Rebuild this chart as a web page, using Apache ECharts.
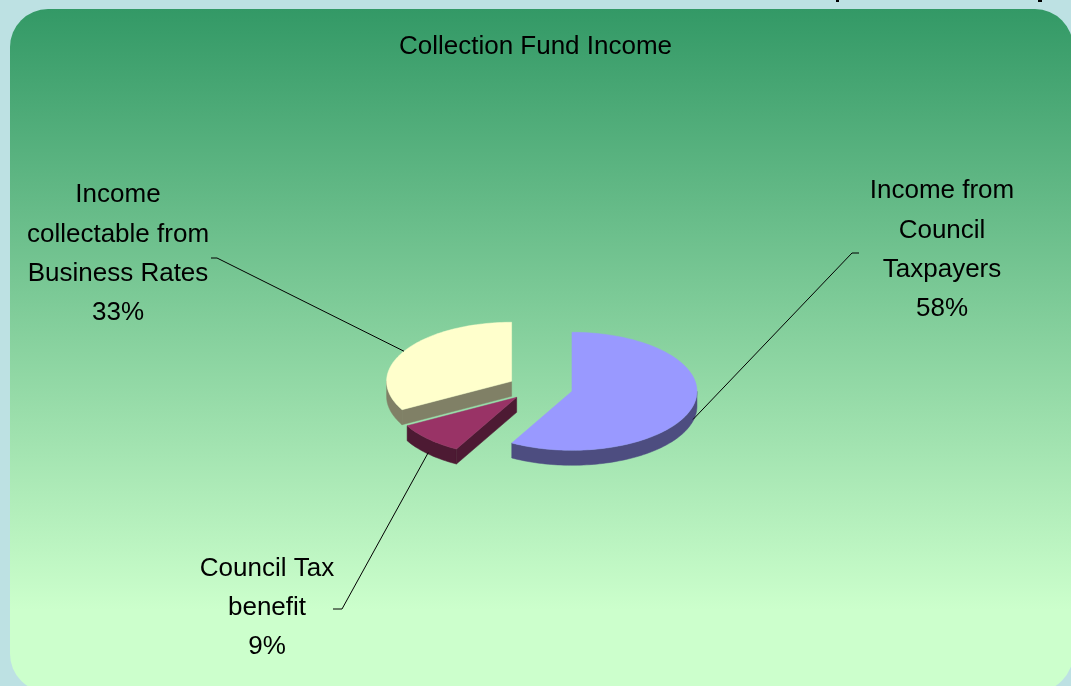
<!DOCTYPE html>
<html><head><meta charset="utf-8">
<script src="https://cdn.jsdelivr.net/npm/echarts@6/dist/echarts.min.js"></script>
<style>html,body{margin:0;padding:0;background:#bde1e3;} #c{width:1071px;height:686px;}</style>
</head><body><div id="c"></div>
<script>
// ---- data ----
const categories = ['Income from\nCouncil\nTaxpayers', 'Council Tax\nbenefit', 'Income\ncollectable from\nBusiness Rates'];
const values = [58, 9, 33];
const title = 'Collection Fund Income';

// ---- styles / layout ----
const topColors = ['#9999ff', '#993366', '#ffffcc'];
const sideColors = ['#4d4d80', '#4d1a33', '#808066'];
const labelLayout = [
  { x: 942, y: 250, ex: 852, ey: 253, tx: 859 },
  { x: 267, y: 608, ex: 342, ey: 609, tx: 333 },
  { x: 118, y: 254, ex: 217, ey: 258, tx: 211 }
];
const CX = 540, CY = 388, RX = 125, RY = 59, DEPTH = 15, EXP = 33, KE = 0.40;
const FONT = '26px "Liberation Sans", Arial, sans-serif';

function renderItem(params, api) {
  const i = params.dataIndex;
  const v = api.value(0);
  const total = values.reduce((a, b) => a + b, 0);
  let cum = 0;
  for (let k = 0; k < i; k++) cum += values[k];
  const T = 2 * Math.PI;
  const t0 = cum / total * T, t1 = (cum + v) / total * T, tm = (t0 + t1) / 2;
  const cx = CX + EXP * Math.sin(tm), cy = CY - EXP * KE * Math.cos(tm);
  const P = (t, d) => [cx + RX * Math.sin(t), cy - RY * Math.cos(t) + (d || 0)];
  const arc = (a, b, d) => {
    const n = Math.max(2, Math.ceil(Math.abs(b - a) / T * 240));
    const pts = [];
    for (let s = 0; s <= n; s++) pts.push(P(a + (b - a) * s / n, d));
    return pts;
  };
  const children = [];
  // outer side
  const a = Math.max(t0, Math.PI / 2), b = Math.min(t1, 3 * Math.PI / 2);
  if (b > a) {
    const pts = arc(a, b, 0).concat(arc(b, a, DEPTH));
    children.push({ type: 'polygon', shape: { points: pts }, style: { fill: sideColors[i], stroke: sideColors[i], lineWidth: 0.5 } });
  }
  // cut faces
  const cut = (t) => {
    const p = P(t), q = P(t, DEPTH);
    children.push({ type: 'polygon', shape: { points: [[cx, cy], p, q, [cx, cy + DEPTH]] }, style: { fill: sideColors[i], stroke: sideColors[i], lineWidth: 0.5 } });
  };
  if (Math.sin(t0) < -1e-6) cut(t0);
  if (Math.sin(t1) > 1e-6) cut(t1);
  // top face
  const topPts = [[cx, cy]].concat(arc(t0, t1, 0));
  children.push({ type: 'polygon', shape: { points: topPts }, style: { fill: topColors[i], stroke: topColors[i], lineWidth: 0.5 } });
  // leader line
  const L = labelLayout[i];
  const start = P(tm, Math.cos(tm) < 0 ? DEPTH * 0.9 : 0);
  children.push({ type: 'polyline', shape: { points: [start, [L.ex, L.ey], [L.tx, L.ey]] }, style: { stroke: '#000', lineWidth: 1, fill: null } });
  // label
  const pct = Math.round(v / total * 100) + '%';
  children.push({ type: 'text', style: { text: categories[i] + '\n' + pct, x: L.x, y: L.y, align: 'center', verticalAlign: 'middle', font: FONT, lineHeight: 39.3, fill: '#000' } });
  return { type: 'group', children };
}

const chart = echarts.init(document.getElementById('c'));
chart.setOption({
  backgroundColor: '#bde1e3',
  animation: false,
  graphic: [
    { type: 'rect', z: -10, shape: { x: 10, y: 9, width: 1063, height: 683, r: 38 },
      style: { fill: new echarts.graphic.LinearGradient(0, 0, 0, 1, [
        { offset: 0, color: '#339966' }, { offset: 0.88, color: '#ccffcc' }, { offset: 1, color: '#ccffcc' }]) } },
    { type: 'rect', z: -10, shape: { x: 836, y: 0, width: 3, height: 2 }, style: { fill: '#000' } },
    { type: 'rect', z: -10, shape: { x: 1038, y: 0, width: 4, height: 2 }, style: { fill: '#000' } }
  ],
  title: {
    text: title, left: 'center', top: 29,
    textStyle: { fontSize: 26, fontWeight: 'normal', color: '#000', fontFamily: '"Liberation Sans", Arial, sans-serif' }
  },
  series: [{
    type: 'custom',
    coordinateSystem: 'none',
    renderItem: renderItem,
    data: values.map((v, i) => ({ name: categories[i], value: v }))
  }]
});
</script>
</body></html>
